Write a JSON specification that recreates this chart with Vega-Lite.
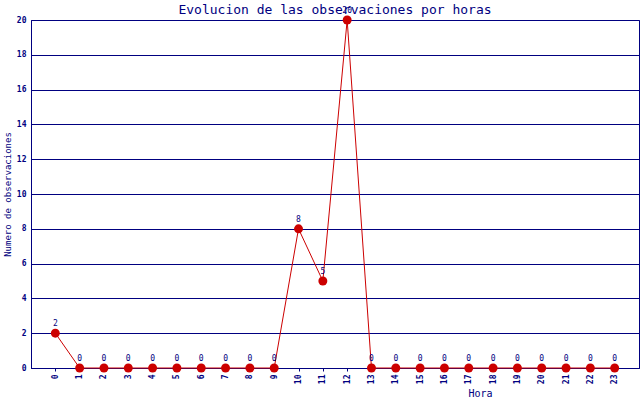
{
  "$schema": "https://vega.github.io/schema/vega-lite/v6.json",
  "width": 608,
  "height": 348,
  "autosize": {"type": "none"},
  "padding": {"left": 31, "top": 20, "right": 1, "bottom": 32},
  "background": "white",
  "title": {
    "text": "Evolucion de las observaciones por horas",
    "font": "DejaVu Sans Mono",
    "fontSize": 13,
    "fontWeight": "normal",
    "color": "#000080",
    "offset": 6,
    "dy": 16,
    "anchor": "middle"
  },
  "config": {
    "view": {"stroke": "#000080", "strokeWidth": 1},
    "axis": {
      "labelFont": "DejaVu Sans Mono",
      "titleFont": "DejaVu Sans Mono",
      "labelColor": "#000080",
      "titleColor": "#000080",
      "domainColor": "#000080",
      "tickColor": "#000080",
      "gridColor": "#000080",
      "gridOpacity": 1,
      "labelFontWeight": "bold",
      "titleFontWeight": "normal"
    }
  },
  "data": {
    "values": [
      {"hora": 0, "n": 2}, {"hora": 1, "n": 0}, {"hora": 2, "n": 0}, {"hora": 3, "n": 0},
      {"hora": 4, "n": 0}, {"hora": 5, "n": 0}, {"hora": 6, "n": 0}, {"hora": 7, "n": 0},
      {"hora": 8, "n": 0}, {"hora": 9, "n": 0}, {"hora": 10, "n": 8}, {"hora": 11, "n": 5},
      {"hora": 12, "n": 20}, {"hora": 13, "n": 0}, {"hora": 14, "n": 0}, {"hora": 15, "n": 0},
      {"hora": 16, "n": 0}, {"hora": 17, "n": 0}, {"hora": 18, "n": 0}, {"hora": 19, "n": 0},
      {"hora": 20, "n": 0}, {"hora": 21, "n": 0}, {"hora": 22, "n": 0}, {"hora": 23, "n": 0}
    ]
  },
  "encoding": {
    "x": {
      "field": "hora",
      "type": "ordinal",
      "scale": {"type": "point", "padding": 1},
      "axis": {
        "title": "Hora",
        "labelAngle": -90,
        "labelFontSize": 8,
        "labelPadding": 3,
        "tickSize": 3,
        "grid": false,
        "titleFontSize": 10,
        "titleX": 449,
        "titleY": 30,
        "titleBaseline": "bottom"
      }
    },
    "y": {
      "field": "n",
      "type": "quantitative",
      "scale": {"domain": [0, 20], "nice": false},
      "axis": {
        "title": "Numero de observaciones",
        "values": [0, 2, 4, 6, 8, 10, 12, 14, 16, 18, 20],
        "ticks": false,
        "labelFontSize": 8,
        "labelPadding": 5,
        "titleFontSize": 9,
        "titlePadding": 4,
        "grid": true
      }
    }
  },
  "layer": [
    {"mark": {"type": "line", "color": "#cc0000", "strokeWidth": 1}},
    {"mark": {"type": "point", "filled": true, "shape": "circle", "size": 80, "color": "#cc0000", "opacity": 1}},
    {
      "mark": {"type": "text", "dy": -9, "fontSize": 8, "font": "DejaVu Sans Mono", "color": "#000080"},
      "encoding": {"text": {"field": "n", "type": "quantitative"}}
    }
  ]
}
